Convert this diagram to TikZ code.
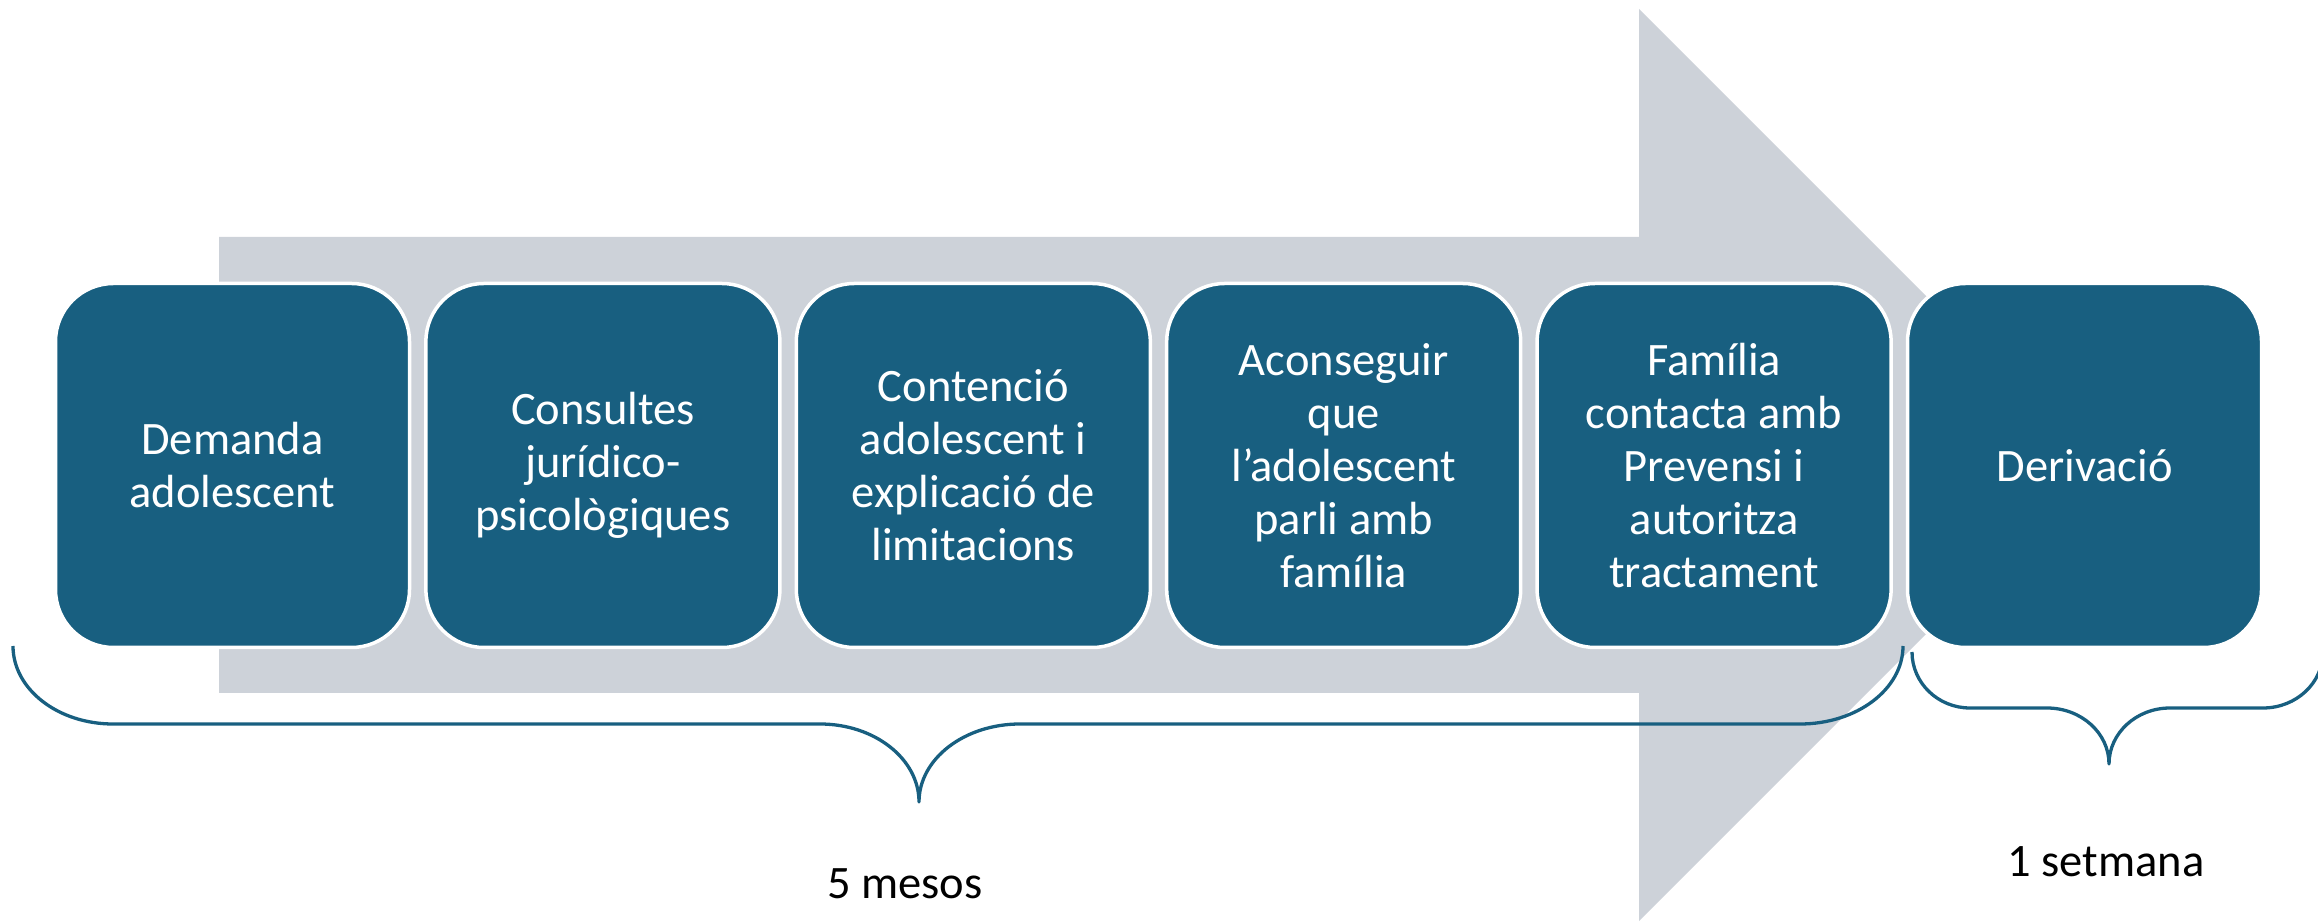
\documentclass[tikz,border=0pt]{standalone}
\usepackage{fontspec}
\setmainfont{Carlito}
\definecolor{caixa}{HTML}{185F80}
\definecolor{fletxa}{HTML}{CDD2D9}
\begin{document}
\begin{tikzpicture}[x=1pt, y=1pt, font=\fontsize{46.5}{53}\selectfont, line join=round,
	pas/.style={rounded corners=58pt, fill=caixa, draw=white, line width=3.5pt, text=white, align=center, minimum width=354pt, minimum height=364pt, inner sep=0pt},
	clau/.style={draw=caixa, line width=3.3pt}]
		\useasboundingbox (0,0) rectangle (2318,921);
		% fletxa del fons
		\fill[fletxa](219,228)--(1639,228)--(1639,0)--(2095,456)--(1639,912)--(1639,684)--(219,684)--cycle;
		\foreach \t [count=\i] in {{Demanda\\adolescent},{Consultes\\jurídico-\\psicològiques},{Contenció\\adolescent i\\explicació de\\limitacions},{Aconseguir\\que\\l’adolescent\\parli amb\\família},{Família\\contacta amb\\Prevensi i\\autoritza\\tractament},{Derivació}}
			\node[pas] (p\i) at ({232.5+370.4*(\i-1)},455.5) {\t};
		% claus
		\draw[clau](13,275) arc (180:270:100 and 78)--(820,197) arc (90:0:99 and 78) arc (180:90:101 and 78)--(1800,197) arc (270:360:103 and 78);
		\draw[clau](1912,269) arc (180:270:58 and 56)--(2047,213) arc (90:0:62 and 56) arc (180:90:61 and 56)--(2263,213) arc (270:360:60 and 56);
		\node[anchor=base] (mesos) at (905,23) {5 mesos};
		\node[anchor=base] (setmana) at (2106,45) {1 setmana};
	\end{tikzpicture}
\end{document}
